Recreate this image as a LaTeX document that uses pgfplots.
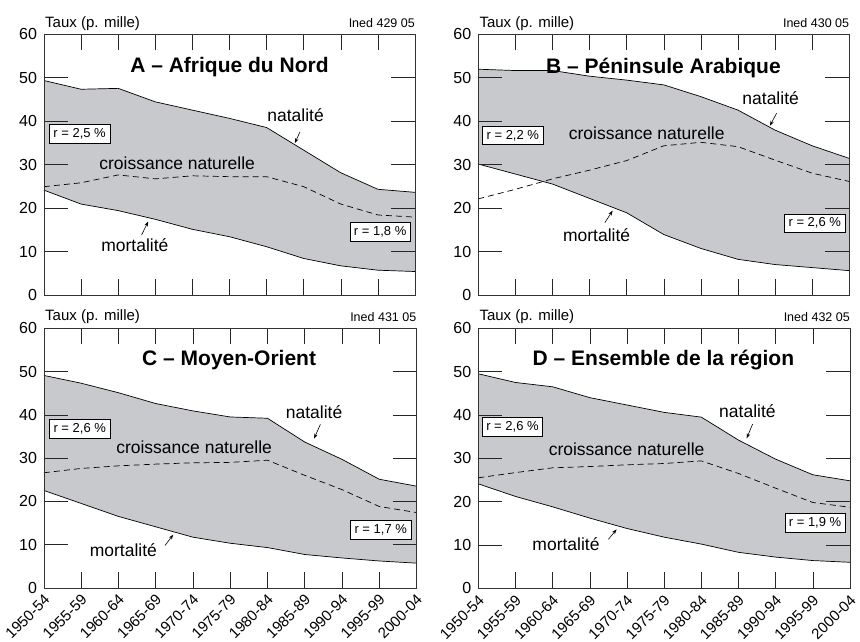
\documentclass[border=0pt]{standalone}
\usepackage{fontspec}
\setmainfont{Liberation Sans}
\usepackage{pgfplots}
\usepackage{pgfplotstable}
\pgfplotsset{compat=1.18}
\usepgfplotslibrary{fillbetween}
\usetikzlibrary{arrows.meta}
\definecolor{fillg}{RGB}{200,201,204}

\pgfplotstableread{
x n m c
0 49.3 24.1 24.9
1 47.3 20.9 25.8
2 47.5 19.4 27.6
3 44.4 17.4 26.7
4 42.5 15.1 27.4
5 40.6 13.4 27.2
6 38.5 11.1 27.2
7 33.3 8.4 24.9
8 28.1 6.7 20.9
9 24.3 5.7 18.4
10 23.6 5.4 17.9
}\dataA

\pgfplotstableread{
x n m c
0 51.9 30.1 22.1
1 51.6 27.8 24.3
2 51.6 25.5 26.7
3 50.3 22.2 28.7
4 49.4 18.9 30.9
5 48.3 13.9 34.3
6 45.6 10.7 35.1
7 42.5 8.2 34.1
8 37.9 7.0 31.0
9 34.3 6.3 28.0
10 31.4 5.6 26.1
}\dataB

\pgfplotstableread{
x n m c
0 49.1 22.5 26.6
1 47.3 19.5 27.6
2 45.1 16.5 28.2
3 42.6 14.1 28.6
4 40.9 11.7 28.9
5 39.5 10.3 29.0
6 39.2 9.3 29.5
7 33.7 7.7 26.0
8 29.7 6.9 22.7
9 25.1 6.2 18.8
10 23.5 5.7 17.4
}\dataC

\pgfplotstableread{
x n m c
0 49.5 24.1 25.5
1 47.5 21.2 26.7
2 46.5 18.8 27.8
3 44.0 16.2 28.1
4 42.3 13.8 28.5
5 40.6 11.8 28.8
6 39.5 10.2 29.4
7 34.2 8.3 26.5
8 29.8 7.2 23.1
9 26.2 6.4 19.8
10 24.8 6.0 18.7
}\dataD

\newcommand{\titlefont}{\fontsize{21}{21}\selectfont\bfseries}
\newcommand{\lblfont}{\fontsize{17.5}{17.5}\selectfont}
\newcommand{\boxfont}{\fontsize{13}{13}\selectfont}
\newcommand{\smallfont}{\fontsize{12.5}{12.5}\selectfont}
\newcommand{\tickfont}{\fontsize{15}{15}\selectfont}
\newcommand{\yfont}{\fontsize{16}{16}\selectfont}

\pgfplotsset{
  panel/.style={
    scale only axis,
    anchor=north west,
    xmin=0, xmax=10, ymin=0, ymax=60,
    xtick={0,...,10}, ytick={0,10,...,60},
    tick align=inside,
    axis on top,
    axis line style={black!80, line width=0.6pt},
    every tick/.style={black!85, line width=0.6pt},
    x tick style={/pgfplots/major tick length=16pt},
    y tick style={/pgfplots/major tick length=24pt},
    tick label style={font=\tickfont},
    yticklabel style={font=\yfont, xshift=-3.5pt},
    /pgf/number format/assume math mode=true,
    clip=false,
  },
  nolabels/.style={xticklabels={}},
  withlabels/.style={
    xticklabels={1950-54,1955-59,1960-64,1965-69,1970-74,1975-79,1980-84,1985-89,1990-94,1995-99,2000-04},
    xticklabel style={font=\tickfont, xshift=5.5pt, yshift=-7pt, rotate=45, anchor=east},
  },
  curve/.style={black, line width=0.7pt},
  cn/.style={black, line width=0.7pt, dash pattern=on 6pt off 4pt},
}
\tikzset{
  rbox/.style={draw=black, fill=white, line width=0.5pt, font=\boxfont, inner xsep=4pt, inner ysep=4pt},
  arr/.style={black, line width=0.6pt, -{Stealth[length=5pt,width=3.5pt]}},
  lbl/.style={font=\lblfont},
}

\begin{document}
\begin{tikzpicture}

% ---------- A ----------
\begin{axis}[panel, nolabels, at={(44pt,-34pt)}, width=371pt, height=261pt]
\addplot[draw=none, name path=nat] table[x=x,y=n]{\dataA};
\addplot[draw=none, name path=mor] table[x=x,y=m]{\dataA};
\addplot[fill=fillg, draw=none] fill between[of=nat and mor];
\addplot[curve] table[x=x,y=n]{\dataA};
\addplot[curve] table[x=x,y=m]{\dataA};
\addplot[cn] table[x=x,y=c]{\dataA};
\node[font=\titlefont] at (axis cs:5,52.5) {A – Afrique du Nord};
\node[lbl] at (axis cs:6.78,41.4) {natalité};
\draw[arr] (axis cs:6.9,37.5) -- (axis cs:6.76,34.9);
\node[lbl] at (axis cs:3.59,30.3) {croissance naturelle};
\node[lbl] at (axis cs:2.45,11.5) {mortalité};
\draw[arr] (axis cs:2.63,13.8) -- (axis cs:2.81,16.9);
\node[rbox] at (axis cs:0.96,37) {r = 2,5 \%};
\node[rbox] at (axis cs:9.06,14.5) {r = 1,8 \%};
\node[font=\tickfont, anchor=base west, inner sep=0pt] at ([xshift=1pt,yshift=6pt]rel axis cs:0,1) {Taux (p. mille)};
\node[font=\smallfont, anchor=base east, inner sep=0pt] at ([yshift=6.5pt]rel axis cs:1,1) {Ined 429 05};
\end{axis}

% ---------- B ----------
\begin{axis}[panel, nolabels, at={(478.3pt,-34pt)}, width=371pt, height=261pt]
\addplot[draw=none, name path=nat] table[x=x,y=n]{\dataB};
\addplot[draw=none, name path=mor] table[x=x,y=m]{\dataB};
\addplot[fill=fillg, draw=none] fill between[of=nat and mor];
\addplot[curve] table[x=x,y=n]{\dataB};
\addplot[curve] table[x=x,y=m]{\dataB};
\addplot[cn] table[x=x,y=c]{\dataB};
\node[font=\titlefont] at (axis cs:4.99,52.1) {B – Péninsule Arabique};
\node[lbl] at (axis cs:7.88,45.2) {natalité};
\draw[arr] (axis cs:8.04,41.8) -- (axis cs:7.86,38.9);
\node[lbl] at (axis cs:4.54,37.2) {croissance naturelle};
\node[lbl] at (axis cs:3.19,13.8) {mortalité};
\draw[arr] (axis cs:3.41,16.6) -- (axis cs:3.62,19.4);
\node[rbox] at (axis cs:0.93,36.7) {r = 2,2 \%};
\node[rbox] at (axis cs:9.07,16.5) {r = 2,6 \%};
\node[font=\tickfont, anchor=base west, inner sep=0pt] at ([xshift=1pt,yshift=6pt]rel axis cs:0,1) {Taux (p. mille)};
\node[font=\smallfont, anchor=base east, inner sep=0pt] at ([yshift=6.5pt]rel axis cs:1,1) {Ined 430 05};
\end{axis}

% ---------- C ----------
\begin{axis}[panel, withlabels, at={(44pt,-328.3pt)}, width=372.5pt, height=259.5pt]
\addplot[draw=none, name path=nat] table[x=x,y=n]{\dataC};
\addplot[draw=none, name path=mor] table[x=x,y=m]{\dataC};
\addplot[fill=fillg, draw=none] fill between[of=nat and mor];
\addplot[curve] table[x=x,y=n]{\dataC};
\addplot[curve] table[x=x,y=m]{\dataC};
\addplot[cn] table[x=x,y=c]{\dataC};
\node[font=\titlefont] at (axis cs:4.97,52.7) {C – Moyen-Orient};
\node[lbl] at (axis cs:7.25,40.5) {natalité};
\draw[arr] (axis cs:7.42,37.8) -- (axis cs:7.25,34.5);
\node[lbl] at (axis cs:4.03,32.4) {croissance naturelle};
\node[lbl] at (axis cs:2.13,8.8) {mortalité};
\draw[arr] (axis cs:3.25,9.8) -- (axis cs:3.47,12.3);
\node[rbox] at (axis cs:0.96,36.8) {r = 2,6 \%};
\node[rbox] at (axis cs:9.04,13.5) {r = 1,7 \%};
\node[font=\tickfont, anchor=base west, inner sep=0pt] at ([xshift=1pt,yshift=8pt]rel axis cs:0,1) {Taux (p. mille)};
\node[font=\smallfont, anchor=base east, inner sep=0pt] at ([yshift=6.5pt]rel axis cs:1,1) {Ined 431 05};
\end{axis}

% ---------- D ----------
\begin{axis}[panel, withlabels, at={(478.3pt,-328.3pt)}, width=371.7pt, height=260pt]
\addplot[draw=none, name path=nat] table[x=x,y=n]{\dataD};
\addplot[draw=none, name path=mor] table[x=x,y=m]{\dataD};
\addplot[fill=fillg, draw=none] fill between[of=nat and mor];
\addplot[curve] table[x=x,y=n]{\dataD};
\addplot[curve] table[x=x,y=m]{\dataD};
\addplot[cn] table[x=x,y=c]{\dataD};
\node[font=\titlefont] at (axis cs:4.98,52.7) {D – Ensemble de la région};
\node[lbl] at (axis cs:7.24,40.8) {natalité};
\draw[arr] (axis cs:7.38,37.9) -- (axis cs:7.22,34.6);
\node[lbl] at (axis cs:3.99,32.1) {croissance naturelle};
\node[lbl] at (axis cs:2.36,10.2) {mortalité};
\draw[arr] (axis cs:3.5,11.3) -- (axis cs:3.72,13.6);
\node[rbox] at (axis cs:0.92,37.3) {r = 2,6 \%};
\node[rbox] at (axis cs:9.06,15.2) {r = 1,9 \%};
\node[font=\tickfont, anchor=base west, inner sep=0pt] at ([xshift=1pt,yshift=8pt]rel axis cs:0,1) {Taux (p. mille)};
\node[font=\smallfont, anchor=base east, inner sep=0pt] at ([yshift=6.5pt]rel axis cs:1,1) {Ined 432 05};
\end{axis}
\pgfresetboundingbox
\useasboundingbox (0,0) rectangle (860pt,-642pt);
\end{tikzpicture}
\end{document}
